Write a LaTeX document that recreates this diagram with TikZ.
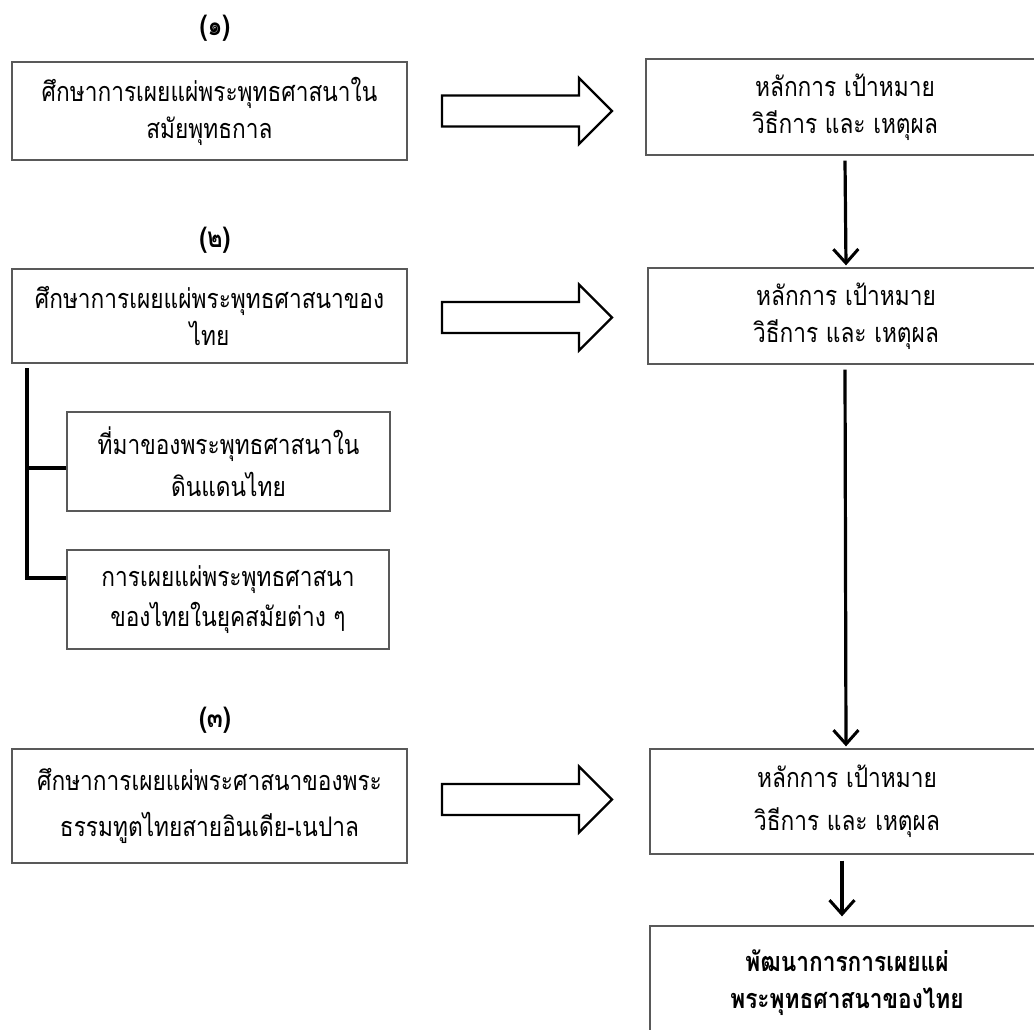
\documentclass[tikz,border=0pt]{standalone}
\usepackage{fontspec}
\newfontfamily\thai[Script=Thai,FakeStretch=0.84]{Loma}
\usetikzlibrary{arrows.meta}
\tikzset{
  tbox/.style={draw=black!65, line width=1.3pt, align=center, inner sep=0pt,
    font=\thai\fontsize{27}{37}\selectfont},
  lab/.style={font=\thai\bfseries\fontsize{28}{30}\selectfont, inner sep=0pt},
  conn/.style={line width=3.2pt, draw=black, -{Straight Barb[length=14pt,width=25pt,line width=3pt]}},
  bracket/.style={line width=3.2pt, draw=black, line cap=butt},
  blockarrow/.style={draw=black, line width=2.4pt, fill=white, line join=miter},
}
\begin{document}
\begin{tikzpicture}[x=1pt,y=-1pt]
\useasboundingbox (0,0) rectangle (1034,1029);
\clip (0,0) rectangle (1034,1029);
\fill[white] (0,0) rectangle (1034,1029);

% labels
\node[lab] (n1) at (215,28) {(๑)};
\node[lab] (n2) at (215,240) {(๒)};
\node[lab] (n3) at (215,720) {(๓)};

% left boxes
\node[tbox, minimum width=395pt, minimum height=98pt] (L1) at (209.5,111)
  {ศึกษาการเผยแผ่พระพุทธศาสนาใน\\สมัยพุทธกาล};
\node[tbox, minimum width=395pt, minimum height=94pt] (L2) at (209.5,316)
  {ศึกษาการเผยแผ่พระพุทธศาสนาของ\\ไทย};
\node[tbox, minimum width=395pt, minimum height=114pt,
  font=\thai\fontsize{27}{46}\selectfont] (L3) at (209.5,806)
  {ศึกษาการเผยแผ่พระศาสนาของพระ\\ธรรมทูตไทยสายอินเดีย-เนปาล};

% sub boxes
\node[tbox, minimum width=323pt, minimum height=99pt,
  font=\thai\fontsize{27}{42}\selectfont] (SA) at (228.5,461.5)
  {ที่มาของพระพุทธศาสนาใน\\ดินแดนไทย};
\node[tbox, minimum width=322pt, minimum height=99pt,
  font=\thai\fontsize{27}{40}\selectfont] (SB) at (228,599.5)
  {การเผยแผ่พระพุทธศาสนา\\ของไทยในยุคสมัยต่าง ๆ};

% right boxes
\node[tbox, minimum width=398pt, minimum height=96pt] (R1) at (845,107)
  {หลักการ เป้าหมาย\\วิธีการ และ เหตุผล};
\node[tbox, minimum width=396pt, minimum height=96pt] (R2) at (846,316)
  {หลักการ เป้าหมาย\\วิธีการ และ เหตุผล};
\node[tbox, minimum width=394pt, minimum height=105pt,
  font=\thai\fontsize{27}{43}\selectfont] (R3) at (847,801.5)
  {หลักการ เป้าหมาย\\วิธีการ และ เหตุผล};
\node[tbox, minimum width=394pt, minimum height=114pt,
  font=\thai\bfseries\fontsize{27}{37}\selectfont] (R4) at (847,983)
  {พัฒนาการการเผยแผ่\\พระพุทธศาสนาของไทย};

% block arrows
\foreach \c/\nm in {111/b1, 317.5/b2, 799.5/b3}{
  \draw[blockarrow] (442,\c-15.5) -- (579,\c-15.5) -- (579,\c-33) -- (612,\c)
    -- (579,\c+33) -- (579,\c+15.5) -- (442,\c+15.5) -- cycle;
}

% down connectors
\draw[conn] ([yshift=-5pt]R1.south) -- ([yshift=2pt]R2.north);
\draw[conn] ([xshift=-1pt,yshift=-5pt]R2.south) -- ([xshift=-1pt,yshift=2pt]R3.north);
\draw[conn] ([xshift=-5pt,yshift=-6pt]R3.south) -- ([xshift=-5pt,yshift=9pt]R4.north);

% bracket
\coordinate (bt) at (27,368);
\coordinate (ba) at (27,468);
\coordinate (bb) at (27,578);
\draw[bracket] (bt) -- (bb) -- (SB.west |- bb);
\draw[bracket] (ba) -- (SA.west |- ba);
\end{tikzpicture}
\end{document}
